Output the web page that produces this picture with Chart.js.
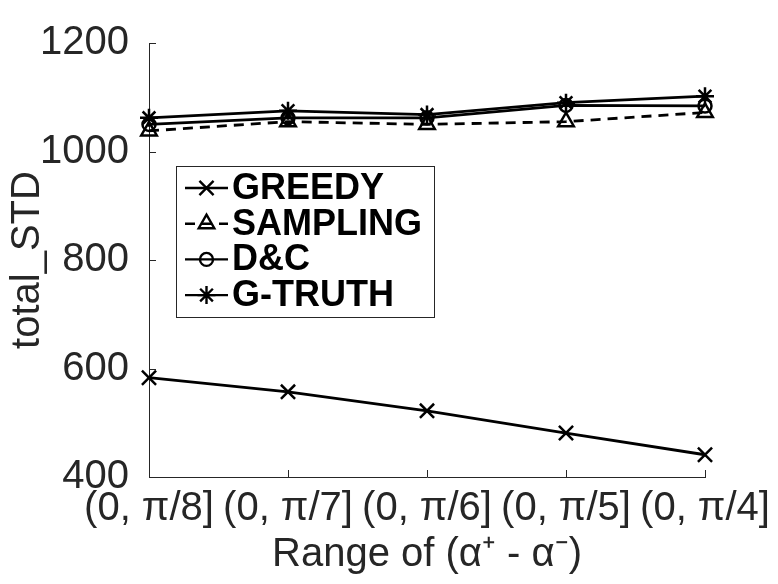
<!DOCTYPE html>
<html>
<head>
<meta charset="utf-8">
<script src="https://cdn.jsdelivr.net/npm/chart.js@4/dist/chart.umd.min.js"></script>
<style>
  html, body { margin: 0; padding: 0; background: #fff; }
  #wrap { width: 778px; height: 584px; }
</style>
</head>
<body>
<div id="wrap"><canvas id="chart" width="778" height="584"></canvas></div>
<script>
const categories = ['(0, π/8]', '(0, π/7]', '(0, π/6]', '(0, π/5]', '(0, π/4]'];
const greedy   = [583, 557, 522, 481, 441];
const sampling = [1038, 1055, 1050, 1055, 1072];
const dc       = [1050, 1062, 1062, 1085, 1084];
const gtruth   = [1062, 1075, 1068, 1090, 1102];
const yTicks = [400, 600, 800, 1000, 1200];

const AXIS = '#262626';
const FONT = "'Liberation Sans', Arial, Helvetica, sans-serif";

function series(label, data, pointStyle, radius, dash) {
  return {
    label: label,
    data: data,
    borderColor: '#000',
    borderWidth: 2.8,
    borderDash: dash || [],
    pointStyle: pointStyle,
    pointRadius: radius,
    pointHoverRadius: radius,
    pointBorderWidth: 2.5,
    pointBorderColor: '#000',
    pointBackgroundColor: 'rgba(0,0,0,0)',
    tension: 0,
    clip: false
  };
}

// matlab style inward ticks and the boxed legend
const matlabBits = {
  id: 'matlabBits',
  afterDraw(chart) {
    const ctx = chart.ctx;
    const x = chart.scales.x, y = chart.scales.y;
    ctx.save();
    ctx.strokeStyle = AXIS;
    ctx.lineWidth = 1;
    y.ticks.forEach((t, i) => {
      const py = Math.round(y.getPixelForTick(i)) + 0.5;
      ctx.beginPath();
      ctx.moveTo(x.left, py);
      ctx.lineTo(x.left + 7, py);
      ctx.stroke();
    });
    x.ticks.forEach((t, i) => {
      const px = Math.round(x.getPixelForTick(i)) + 0.5;
      ctx.beginPath();
      ctx.moveTo(px, y.bottom);
      ctx.lineTo(px, y.bottom - 7);
      ctx.stroke();
    });

    // legend
    const bx = 176.5, by = 166.5, bw = 258, bh = 151;
    ctx.fillStyle = '#fff';
    ctx.fillRect(bx, by, bw, bh);
    ctx.strokeStyle = AXIS;
    ctx.strokeRect(bx, by, bw, bh);
    ctx.font = 'bold 36px ' + FONT;
    ctx.textBaseline = 'middle';
    chart.data.datasets.forEach((ds, i) => {
      const ry = 188 + i * 35.7;
      ctx.strokeStyle = '#000';
      ctx.lineWidth = 2.4;
      ctx.setLineDash(ds.borderDash);
      ctx.beginPath();
      ctx.moveTo(185, ry);
      ctx.lineTo(228, ry);
      ctx.stroke();
      ctx.setLineDash([]);
      ctx.fillStyle = 'rgba(0,0,0,0)';
      Chart.helpers.drawPoint(ctx, {
        pointStyle: ds.pointStyle,
        radius: ds.pointRadius,
        rotation: 0,
        borderWidth: ds.pointBorderWidth
      }, 206.5, ry);
      ctx.fillStyle = '#000';
      ctx.fillText(ds.label, 232, ry + 1);
    });
    ctx.restore();
  }
};

new Chart(document.getElementById('chart'), {
  type: 'line',
  data: {
    labels: categories,
    datasets: [
      series('GREEDY', greedy, 'crossRot', 10),
      series('SAMPLING', sampling, 'triangle', 9, [10, 7]),
      series('D&C', dc, 'circle', 6.5),
      series('G-TRUTH', gtruth, 'star', 9)
    ]
  },
  options: {
    responsive: false,
    animation: false,
    layout: { padding: { left: 0, right: 73, top: 43, bottom: 0 } },
    plugins: {
      legend: { display: false },
      tooltip: { enabled: false }
    },
    scales: {
      x: {
        type: 'category',
        offset: false,
        grid: { display: false },
        border: { display: true, color: AXIS, width: 1 },
        ticks: {
          color: AXIS,
          font: { family: FONT, size: 40 },
          padding: 0,
          maxRotation: 0,
          minRotation: 0,
          autoSkip: false
        },
        title: {
          display: true,
          text: 'Range of (α⁺ - α⁻)',
          color: AXIS,
          font: { family: FONT, size: 40 },
          padding: { top: 0, bottom: 5 }
        },
        afterFit(s) { s.height = 107; }
      },
      y: {
        min: 400,
        max: 1200,
        afterBuildTicks(s) { s.ticks = yTicks.map(v => ({ value: v })); },
        grid: { display: false },
        border: { display: true, color: AXIS, width: 1 },
        ticks: {
          color: AXIS,
          font: { family: FONT, size: 40 },
          padding: 12,
          callback: v => String(v)
        },
        title: {
          display: true,
          text: 'total_STD',
          color: AXIS,
          font: { family: FONT, size: 40 },
          padding: { top: 4, bottom: 0 }
        },
        afterFit(s) { s.width = 149; }
      }
    }
  },
  plugins: [matlabBits]
});
</script>
</body>
</html>
